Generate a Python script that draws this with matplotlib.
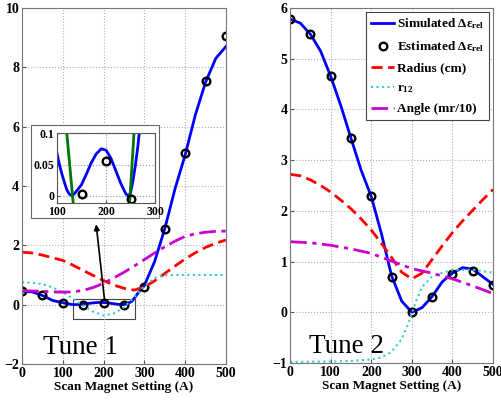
import numpy as np
import matplotlib
matplotlib.use('Agg')
import matplotlib.pyplot as plt
from matplotlib.patches import Rectangle

plt.rcParams['font.family'] = ['Liberation Serif', 'DejaVu Serif']
plt.rcParams['font.weight'] = 'bold'
plt.rcParams['mathtext.fontset'] = 'custom'
plt.rcParams['mathtext.rm'] = 'Liberation Serif:bold'
plt.rcParams['mathtext.it'] = 'Liberation Serif:bold'
plt.rcParams['mathtext.bf'] = 'Liberation Serif:bold'

# Tune 1 data
t1_sim_x = [0, 25, 50, 75, 100, 105, 110, 115, 120, 125, 130, 135, 140, 150, 160, 170, 180, 190,
            200, 210, 220, 230, 240, 245, 250, 255, 260, 265, 270, 285, 300, 325, 350, 375, 400,
            425, 450, 475, 500]
t1_sim_y = [0.45, 0.43, 0.31, 0.14, 0.068, 0.05, 0.035, 0.022, 0.01, 0.003, 0.001, 0.003, 0.008,
            0.018, 0.035, 0.053, 0.067, 0.075, 0.073, 0.06, 0.04, 0.02, 0.004, 0.0, 0.005, 0.025,
            0.05, 0.08, 0.12, 0.4, 0.65, 1.45, 2.56, 3.9, 5.05, 6.4, 7.5, 8.3, 8.7]
t1_est_x = [0, 50, 100, 150, 200, 250, 300, 350, 400, 450, 500]
t1_est_y = [0.45, 0.32, 0.05, 0.003, 0.055, -0.004, 0.6, 2.55, 5.1, 7.55, 9.05]
t1_rad_x = [0, 25, 50, 75, 100, 125, 150, 175, 200, 225, 250, 275, 300, 325, 350, 375, 400, 425,
            450, 475, 500]
t1_rad_y = [1.77, 1.74, 1.67, 1.58, 1.49, 1.33, 1.15, 0.98, 0.81, 0.66, 0.55, 0.49, 0.6, 0.8,
            1.05, 1.3, 1.54, 1.75, 1.93, 2.07, 2.18]
t1_r12_x = [0, 25, 50, 75, 100, 125, 150, 175, 200, 225, 250, 275, 300, 325, 350, 375, 400, 450,
            500]
t1_r12_y = [0.75, 0.74, 0.69, 0.58, 0.42, 0.2, -0.03, -0.24, -0.37, -0.3, -0.09, 0.25, 0.62, 0.9,
            0.99, 1.0, 1.0, 1.0, 1.0]
t1_ang_x = [0, 25, 50, 75, 100, 125, 150, 175, 200, 225, 250, 275, 300, 325, 350, 375, 400, 425,
            450, 475, 500]
t1_ang_y = [0.47, 0.46, 0.45, 0.43, 0.42, 0.43, 0.48, 0.58, 0.72, 0.9, 1.09, 1.3, 1.52, 1.74,
            1.95, 2.14, 2.3, 2.39, 2.44, 2.47, 2.48]
green_a_x = [120, 133]
green_a_y = [0.1, -0.011]
green_b_x = [248, 257]
green_b_y = [-0.011, 0.1]

# Tune 2 data
t2_sim_x = [0, 25, 50, 75, 100, 125, 150, 175, 200, 225, 250, 275, 300, 325, 350, 375, 400, 425,
            450, 475, 500]
t2_sim_y = [5.78, 5.7, 5.48, 5.15, 4.65, 4.07, 3.43, 2.8, 2.28, 1.55, 0.72, 0.22, 0.0, 0.09,
            0.31, 0.6, 0.77, 0.88, 0.85, 0.7, 0.55]
t2_est_x = [0, 50, 100, 150, 200, 250, 300, 350, 400, 450, 500]
t2_est_y = [5.78, 5.48, 4.65, 3.43, 2.3, 0.7, 0.0, 0.3, 0.75, 0.82, 0.53]
t2_rad_x = [0, 25, 50, 75, 100, 125, 150, 175, 200, 225, 250, 275, 300, 325, 350, 375, 400, 425,
            450, 475, 500]
t2_rad_y = [2.72, 2.69, 2.61, 2.5, 2.37, 2.21, 2.04, 1.84, 1.62, 1.36, 1.08, 0.79, 0.66, 0.77,
            1.04, 1.31, 1.57, 1.8, 2.01, 2.22, 2.42]
t2_r12_x = [0, 100, 150, 200, 225, 250, 275, 290, 300, 312, 325, 350, 375, 400, 450, 500]
t2_r12_y = [-0.98, -0.97, -0.96, -0.93, -0.89, -0.78, -0.53, -0.25, -0.02, 0.25, 0.5, 0.7, 0.78,
            0.83, 0.84, 0.78]
t2_ang_x = [0, 50, 100, 150, 200, 250, 300, 350, 400, 450, 500]
t2_ang_y = [1.39, 1.37, 1.32, 1.25, 1.16, 1.01, 0.86, 0.77, 0.66, 0.52, 0.37]

fig = plt.figure(figsize=(5.02, 4.01), dpi=100)
ax1 = fig.add_axes([0.0438, 0.0923, 0.4064, 0.888])
ax2 = fig.add_axes([0.578, 0.0948, 0.404, 0.8855])

mk = dict(marker='o', ls='none', mfc='none', mec='black', mew=1.7, ms=5.5)


def style(ax, yticks):
    ax.set_xlim(0, 500)
    ax.set_xticks(range(0, 501, 100))
    ax.set_yticks(yticks)
    ax.set_ylim(yticks[0], yticks[-1])
    ax.grid(True, ls=':', color='#b0b0b0', lw=0.8)
    ax.tick_params(direction='in', labelsize=10, length=3, pad=2, color='#555555')
    for s in ax.spines.values():
        s.set_color('#777777')
    ax.set_xlabel('Scan Magnet Setting (A)', fontsize=9.5, fontweight='bold', labelpad=1)


ax1.plot(t1_sim_x, t1_sim_y, color='#0000ff', lw=2)
ax1.plot(t1_est_x, t1_est_y, **mk)
ax1.plot(t1_rad_x, t1_rad_y, color='#ff0000', lw=2, ls=(0, (4, 2)))
ax1.plot(t1_r12_x, t1_r12_y, color='#33cccc', lw=1.5, ls=':')
ax1.plot(t1_ang_x, t1_ang_y, color='#cc00cc', lw=2, ls=(0, (6, 2, 1.5, 2)))
style(ax1, list(range(-2, 11, 2)))
ax1.add_patch(Rectangle((125, -0.47), 152, 0.67, fill=False, ec='#444444', lw=0.8))
ax1.annotate('', xy=(181, 2.8), xytext=(203, 0.07),
             arrowprops=dict(arrowstyle='-|>', color='black', lw=1.2, mutation_scale=8))
ax1.text(51, -1.65, 'Tune 1', fontsize=19.5, fontweight='normal')

ax2.plot(t2_sim_x, t2_sim_y, color='#0000ff', lw=2, label=r'Simulated $\Delta\varepsilon_{rel}$')
ax2.plot(t2_est_x, t2_est_y, label=r'Estimated $\Delta\varepsilon_{rel}$', **mk)
ax2.plot(t2_rad_x, t2_rad_y, color='#ff0000', lw=2, ls=(0, (4, 2)), label='Radius (cm)')
ax2.plot(t2_r12_x, t2_r12_y, color='#33cccc', lw=1.5, ls=':', label=r'r$_{12}$')
ax2.plot(t2_ang_x, t2_ang_y, color='#cc00cc', lw=2, ls=(0, (6, 2, 1.5, 2)), label='Angle (mr/10)')
style(ax2, list(range(-1, 7)))
ax2.text(47, -0.81, 'Tune 2', fontsize=19.5, fontweight='normal')
leg = ax2.legend(loc='upper right', fontsize=9.5, handlelength=1.8, handletextpad=0.2,
                 borderpad=0.35, labelspacing=0.6, fancybox=False, framealpha=1,
                 borderaxespad=0.3)
leg.get_frame().set_edgecolor('#444444')
leg.get_frame().set_linewidth(0.8)

# inset
fig.patches.append(Rectangle((0.0618, 0.456), 0.255, 0.232, transform=fig.transFigure,
                             fc='white', ec='#666666', lw=0.8, zorder=5))
ax3 = fig.add_axes([0.1135, 0.494, 0.1955, 0.174], zorder=6)
ax3.plot(t1_sim_x, t1_sim_y, color='#0000ff', lw=2)
ax3.plot(green_a_x, green_a_y, color='#007700', lw=2)
ax3.plot(green_b_x, green_b_y, color='#007700', lw=2)
ax3.plot(t1_est_x[3:6], t1_est_y[3:6], **mk)
ax3.set_xlim(100, 300)
ax3.set_ylim(-0.011, 0.1)
ax3.set_xticks([100, 200, 300])
ax3.set_yticks([0, 0.05, 0.1])
ax3.set_yticklabels(['0', '0.05', '0.1'])
ax3.grid(True, ls=':', color='#999999', lw=0.8)
ax3.tick_params(direction='in', labelsize=8.5, length=2, pad=2, color='#555555')
for s in ax3.spines.values():
    s.set_color('#555555')

fig.savefig('out.png', dpi=100)
